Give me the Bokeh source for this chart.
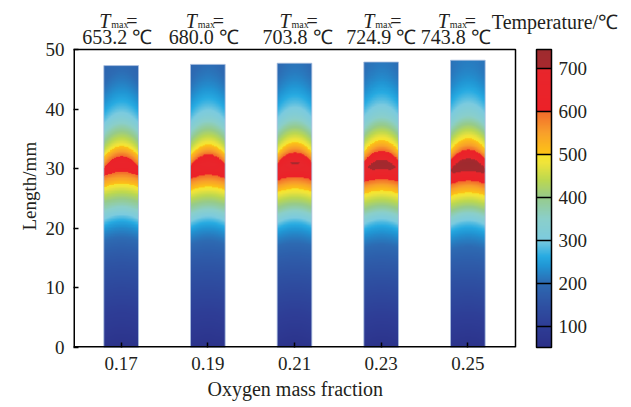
import numpy as np
from bokeh.plotting import figure
from bokeh.models import LinearColorMapper, ColorBar, FixedTicker, Range1d, Title
from bokeh.core.properties import value
from bokeh.embed import file_html
from bokeh.resources import INLINE

# ---------------- data ----------------
oxygen = [0.17, 0.19, 0.21, 0.23, 0.25]
tick_labels = ["0.17", "0.19", "0.21", "0.23", "0.25"]
t_max = [653.2, 680.0, 703.8, 724.9, 743.8]
t_max_labels = ["653.2 \u2103", "680.0 \u2103", "703.8 \u2103", "724.9 \u2103", "743.8 \u2103"]
flame_height = [47.3, 47.5, 47.7, 47.9, 48.2]          # mm
# centreline temperature read along the 0.17 flame (deg C) at 1 mm steps
z_mm = list(range(0, 49))
t_axis_017 = [60, 67, 74, 81, 88, 94, 100, 107, 113, 119,
              126, 133, 140, 147, 154, 162, 171, 182, 195, 211,
              230, 255, 290, 330, 370, 405, 442, 482, 530, 578,
              640, 653.2, 598, 538, 482, 442, 405, 370, 336, 306,
              285, 266, 250, 236, 223, 212, 204, 198, 195]
t_low, t_high = 50.0, 743.8
cb_ticks = [100, 200, 300, 400, 500, 600, 700]
y_ticks = [0, 10, 20, 30, 40, 50]
X_LIM = (0.159, 0.261)
Y_LIM = (0, 50)

# ---------------- layout (pixels) ----------------
PLOT_W, PLOT_H = 442, 298          # size of the boxed axes area
LEFT, TOP = 73, 49                 # box position on the page
PAGE_W, PAGE_H = 623, 407
ppx = (X_LIM[1] - X_LIM[0]) / PLOT_W   # data units per px (x)
ppy = (Y_LIM[1] - Y_LIM[0]) / PLOT_H   # data units per px (y)
head_dx = [-4, -4, 3, 0, -12]     # header text shifts (px)

# ---------------- colour map ----------------
stops = [
    (50, "#2b3088"), (100, "#2e3d96"), (150, "#2e52a3"), (200, "#2d6bb3"),
    (240, "#2196d4"), (262, "#27abe2"), (300, "#7ccbdf"), (350, "#8bcfca"),
    (400, "#97cb8a"), (440, "#bcd850"), (480, "#f0e43a"), (499.9, "#f8e52a"),
    (500.1, "#fdc516"), (550, "#f8a02b"), (599.9, "#f26a2b"),
    (600.1, "#ec2128"), (699.9, "#e8262c"), (700.1, "#a7292e"), (743.8, "#9f2a2e"),
]
def hex2rgb(h):
    return [int(h[i:i + 2], 16) for i in (1, 3, 5)]
sv = np.array([s[0] for s in stops])
sc = np.array([hex2rgb(s[1]) for s in stops], dtype=float)
vals = np.linspace(t_low, t_high, 512)
palette = []
for v in vals:
    rgb = [int(round(np.interp(v, sv, sc[:, k]))) for k in range(3)]
    palette.append("#%02x%02x%02x" % tuple(rgb))
mapper = LinearColorMapper(palette=palette, low=t_low, high=t_high)

FONT = "Liberation Serif"
TXT = "#231f20"

# frame extended up to the page top and right to the page edge (for header texts)
frame_w = PAGE_W - LEFT
frame_h = TOP + PLOT_H
x_rng = Range1d(X_LIM[0], X_LIM[0] + frame_w * ppx)
y_rng = Range1d(Y_LIM[0], Y_LIM[0] + frame_h * ppy)

p = figure(frame_width=frame_w, frame_height=frame_h, x_range=x_rng, y_range=y_rng,
           min_border_left=LEFT, min_border_right=0, min_border_top=0,
           min_border_bottom=PAGE_H - frame_h,
           output_backend="svg", toolbar_location=None)
p.outline_line_color = None
p.grid.visible = False
p.background_fill_color = "white"
p.border_fill_color = "white"

for ax in (p.xaxis[0], p.yaxis[0]):
    ax.axis_line_color = None
    ax.major_tick_in = 5
    ax.major_tick_out = 0
    ax.major_tick_line_width = 1.5
    ax.major_tick_line_color = "black"
    ax.minor_tick_line_color = None
    ax.major_label_text_font = FONT
    ax.major_label_text_font_size = "19px"
    ax.major_label_text_color = TXT
p.xaxis[0].ticker = FixedTicker(ticks=oxygen)
p.xaxis[0].major_label_overrides = {o: l for o, l in zip(oxygen, tick_labels)}
p.xaxis[0].major_label_standoff = 9
p.yaxis[0].ticker = FixedTicker(ticks=y_ticks)
p.yaxis[0].major_label_standoff = 9

# axis titles (placed as panel titles so they stay on the box, not the extended frame)
p.add_layout(Title(text="Oxygen mass fraction", align="left", offset=134, standoff=6,
                   text_font=FONT, text_font_size="20px", text_font_style="normal",
                   text_color=TXT), "below")
p.add_layout(Title(text="Length/mm", align="left", offset=117, standoff=6,
                   text_font=FONT, text_font_size="19px", text_font_style="normal",
                   text_color=TXT), "left")

# ---------------- flames ----------------
bar_w = 0.008
shift_mm = 1.2   # isotherm curvature
edge_cool = 0.06
nx = 35
r = np.linspace(-1, 1, nx)
for xc, tm, H in zip(oxygen, t_max, flame_height):
    ny = int(round(H / 0.1))
    z = (np.arange(ny) + 0.5) * H / ny
    zz = z[:, None] + shift_mm * r[None, :] ** 2
    tc = np.interp(zz, z_mm, t_axis_017)
    T = t_low + (tc - t_low) * (tm - t_low) / (t_axis_017[31] - t_low) * (1 - edge_cool * r[None, :] ** 2)
    p.image(image=[T], x=xc - bar_w / 2, y=0, dw=bar_w, dh=H, color_mapper=mapper)
    p.rect(x=[xc], y=[H / 2], width=bar_w, height=H, fill_color=None,
           line_color="#a9bfe0", line_width=0.8)

# ---------------- axes box ----------------
# left and bottom edges sit on the frame edge (half clipped) -> doubled width
p.line(x=[X_LIM[0], X_LIM[0]], y=[Y_LIM[0], Y_LIM[1]], line_color="black", line_width=3)
p.line(x=[X_LIM[0], X_LIM[1]], y=[Y_LIM[0], Y_LIM[0]], line_color="black", line_width=3)
p.line(x=[X_LIM[0], X_LIM[1], X_LIM[1]], y=[Y_LIM[1], Y_LIM[1], Y_LIM[0]],
       line_color="black", line_width=1.5)

# ---------------- header labels ----------------
def above(px_up):
    return Y_LIM[1] + px_up * ppy

for xc, lab, dx in zip(oxygen, t_max_labels, head_dx):
    p.text(x=[xc], y=[above(TOP - 20.5)], text=["T"], x_offset=dx - 18, text_font=value(FONT),
           text_font_style="italic", text_font_size="20px", text_color=TXT,
           text_align="left", text_baseline="alphabetic")
    p.text(x=[xc], y=[above(TOP - 24.0)], text=["max"], x_offset=dx - 6, text_font=value(FONT),
           text_font_size="10px", text_color=TXT,
           text_align="left", text_baseline="alphabetic")
    p.text(x=[xc], y=[above(TOP - 20.5)], text=["="], x_offset=dx + 9, text_font=value(FONT),
           text_font_size="20px", text_color=TXT,
           text_align="left", text_baseline="alphabetic")
    p.text(x=[xc], y=[above(TOP - 36.0)], text=[lab], x_offset=dx, text_font=value(FONT),
           text_font_size="20px", text_color=TXT,
           text_align="center", text_baseline="alphabetic")
p.text(x=[oxygen[-1]], y=[above(TOP - 21.0)], text=["Temperature/\u2103"], x_offset=24,
       text_font=value(FONT), text_font_size="20px", text_color=TXT,
       text_align="left", text_baseline="alphabetic")

# ---------------- colour bar ----------------
cb = ColorBar(color_mapper=mapper, ticker=FixedTicker(ticks=cb_ticks), width=15, height=PLOT_H,
              padding=0, margin=0, location=(463, 0),
              major_tick_in=15, major_tick_out=0, major_tick_line_color="black",
              major_tick_line_width=1.5, minor_tick_line_color=None,
              bar_line_color="black", bar_line_width=1.5,
              label_standoff=7, major_label_text_font=FONT,
              major_label_text_font_size="19px", major_label_text_color=TXT,
              background_fill_color=None, border_line_color=None)
p.add_layout(cb, "center")

open("out.html", "w").write(file_html(p, INLINE))
